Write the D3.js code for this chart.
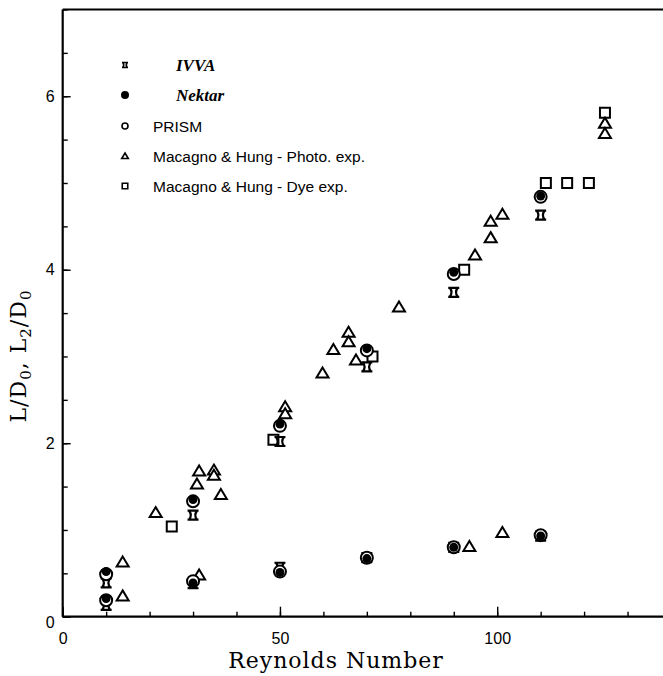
<!DOCTYPE html>
<html>
<head>
<meta charset="utf-8">
<script src="https://cdn.jsdelivr.net/npm/d3@7"></script>
<style>
  html, body { margin: 0; padding: 0; background: #fff; }
  svg { display: block; }
</style>
</head>
<body>
<svg id="chart" width="663" height="676"></svg>
<script>
// Wake length ratios versus Reynolds number: simulations and experiments
const ivva   = [[10,0.39],[10,0.13],[30,1.17],[30,0.38],[50,2.02],[50,0.57],[70,2.88],[70,0.68],[90,3.74],[90,0.80],[110,4.63],[110,0.93]];
const nektar = [[10,0.52],[10,0.21],[30,1.35],[30,0.39],[50,2.22],[50,0.51],[70,3.09],[70,0.67],[90,3.97],[90,0.80],[110,4.85],[110,0.93]];
const prism  = [[10,0.49],[10,0.19],[30,1.33],[30,0.41],[50,2.20],[50,0.52],[70,3.07],[70,0.68],[90,3.95],[90,0.80],[110,4.84],[110,0.94]];
const photo  = [[13.8,0.63],[13.8,0.24],[21.4,1.20],[31.4,0.48],[31.4,1.68],[30.9,1.53],[34.8,1.69],[34.8,1.63],[36.4,1.41],
                [51.2,2.42],[51.2,2.34],[59.8,2.81],[62.3,3.08],[65.8,3.28],[65.8,3.17],[67.5,2.96],[77.4,3.57],
                [93.6,0.81],[94.9,4.17],[98.5,4.37],[98.5,4.56],[101.2,4.64],[101.2,0.97],[124.8,5.69],[124.8,5.57]];
const dye    = [[25.1,1.04],[48.5,2.04],[71.3,3.00],[92.4,4.00],[111.2,5.00],[116.1,5.00],[121.1,5.00],[124.8,5.81]];

const xMinorTicks = d3.range(0, 141, 10);
const xMajorTicks = [0, 50, 100];
const yMinorTicks = d3.range(0, 7.01, 0.5);
const yMajorTicks = [0, 2, 4, 6];

const legendLabels = ["IVVA", "Nektar", "PRISM", "Macagno & Hung - Photo. exp.", "Macagno & Hung - Dye exp."];

(function () {
  const svg = d3.select("#chart");
  const plotLeft = 62.7, plotBottom = 616.7, plotTop = 9.5;
  const x = d3.scaleLinear().domain([0, 140]).range([plotLeft, plotLeft + 4.345 * 140]);
  const y = d3.scaleLinear().domain([0, 7]).range([plotBottom, plotTop]);

  // frame: top border continues past the right edge
  svg.append("line").attr("x1", plotLeft).attr("x2", 680).attr("y1", plotTop).attr("y2", plotTop)
    .attr("stroke", "#000").attr("stroke-width", 2);

  // axes with inward ticks
  const gx = svg.append("g").attr("transform", `translate(0,${plotBottom})`);
  gx.call(d3.axisBottom(x).tickValues(xMinorTicks).tickSize(-5).tickFormat(""));
  const gxMaj = svg.append("g").attr("transform", `translate(0,${plotBottom})`);
  gxMaj.call(d3.axisBottom(x).tickValues(xMajorTicks).tickSize(-10).tickPadding(16).tickFormat(d3.format("d")));

  const gy = svg.append("g").attr("transform", `translate(${plotLeft},0)`);
  gy.call(d3.axisLeft(y).tickValues(yMinorTicks).tickSize(-5).tickFormat(""));
  const gyMaj = svg.append("g").attr("transform", `translate(${plotLeft},0)`);
  gyMaj.call(d3.axisLeft(y).tickValues(yMajorTicks).tickSize(-8).tickPadding(8).tickFormat(d3.format("d")));

  [gx, gxMaj, gy, gyMaj].forEach(g => {
    g.select(".domain").attr("stroke", "#000").attr("stroke-width", 2.2);
    g.selectAll(".tick line").attr("stroke", "#000").attr("stroke-width", 1.4);
    g.selectAll(".tick text").attr("fill", "#000")
      .style("font-family", "'Liberation Sans', Arial, sans-serif").style("font-size", "16px");
  });
  gx.select(".domain").attr("d", `M${plotLeft},0H680`);
  gxMaj.select(".domain").remove();
  gyMaj.select(".domain").remove();
  gy.select(".domain").attr("d", `M0,${plotTop}V${plotBottom}`);
  gyMaj.selectAll(".tick").filter(d => d === 0).select("text").attr("dy", "0.65em");

  // marker shapes
  const crossPath = s => `M${-5.5*s},${-4.5*s}H${5.5*s}M${-5.5*s},${4.5*s}H${5.5*s}` +
    `M${-4*s},${-4.5*s}Q${-0.5*s},0 ${-4*s},${4.5*s}M${4*s},${-4.5*s}Q${0.5*s},0 ${4*s},${4.5*s}`;
  const triPath = s => `M0,${-5.5*s}L${6*s},${4.5*s}L${-6*s},${4.5*s}Z`;
  const sqPath = s => `M${-5*s},${-5*s}H${5*s}V${5*s}H${-5*s}Z`;

  function drawMarks(data, kind, s) {
    const g = svg.append("g").attr("class", kind);
    const sel = g.selectAll("path").data(data).join("path")
      .attr("transform", d => `translate(${x(d[0])},${y(d[1])})`);
    if (kind === "ivva") sel.attr("d", crossPath(s)).attr("fill", "none").attr("stroke", "#000").attr("stroke-width", 2.2);
    if (kind === "photo") sel.attr("d", triPath(s)).attr("fill", "#fff").attr("stroke", "#000").attr("stroke-width", 2);
    if (kind === "dye") sel.attr("d", sqPath(s)).attr("fill", "#fff").attr("stroke", "#000").attr("stroke-width", 2);
    if (kind === "prism") sel.attr("d", d3.symbol(d3.symbolCircle, Math.PI * 36 * s * s)()).attr("fill", "#fff").attr("stroke", "#000").attr("stroke-width", 2);
    if (kind === "nektar") sel.attr("d", d3.symbol(d3.symbolCircle, Math.PI * 20 * s * s)()).attr("fill", "#000");
  }

  drawMarks(dye, "dye", 1);
  drawMarks(photo, "photo", 1);
  drawMarks(ivva, "ivva", 1);
  drawMarks(prism, "prism", 1);
  drawMarks(nektar, "nektar", 1);

  // legend
  const legY = [65, 95, 126, 156, 186];
  const legKinds = ["ivva", "nektar", "prism", "photo", "dye"];
  const leg = svg.append("g");
  legKinds.forEach((k, i) => {
    const cx = 125, cy = legY[i];
    const p = leg.append("path").attr("transform", `translate(${cx},${cy})`);
    if (k === "ivva") p.attr("d", crossPath(0.55)).attr("fill", "none").attr("stroke", "#000").attr("stroke-width", 1.6);
    if (k === "nektar") p.attr("d", d3.symbol(d3.symbolCircle, Math.PI * 16)()).attr("fill", "#000");
    if (k === "prism") p.attr("d", d3.symbol(d3.symbolCircle, Math.PI * 9)()).attr("fill", "#fff").attr("stroke", "#000").attr("stroke-width", 1.6);
    if (k === "photo") p.attr("d", triPath(0.55)).attr("fill", "#fff").attr("stroke", "#000").attr("stroke-width", 1.6);
    if (k === "dye") p.attr("d", sqPath(0.55)).attr("fill", "#fff").attr("stroke", "#000").attr("stroke-width", 1.6);
    const t = leg.append("text").attr("y", cy).attr("dy", "0.36em").text(legendLabels[i]);
    if (i < 2) {
      t.attr("x", 176).style("font-family", "'Liberation Serif', 'Times New Roman', serif")
        .style("font-style", "italic").style("font-weight", "bold").style("font-size", "17px");
    } else {
      t.attr("x", 153).style("font-family", "'Liberation Sans', Arial, sans-serif").style("font-size", "15.5px");
    }
  });

  // axis titles
  svg.append("text").attr("x", 336).attr("y", 668).attr("text-anchor", "middle")
    .style("font-family", "'DejaVu Serif', serif").style("font-size", "22px").style("letter-spacing", "1px")
    .text("Reynolds Number");

  const yt = svg.append("text").attr("transform", "translate(26,356) rotate(-90)").attr("text-anchor", "middle")
    .style("font-family", "'DejaVu Serif', serif").style("font-size", "22px").style("letter-spacing", "1px");
  yt.append("tspan").text("L/D");
  yt.append("tspan").attr("dy", 5).style("font-size", "15px").text("0");
  yt.append("tspan").attr("dy", -5).text(",  L");
  yt.append("tspan").attr("dy", 5).style("font-size", "15px").text("2");
  yt.append("tspan").attr("dy", -5).text("/D");
  yt.append("tspan").attr("dy", 5).style("font-size", "15px").text("0");
})();
</script>
</body>
</html>
